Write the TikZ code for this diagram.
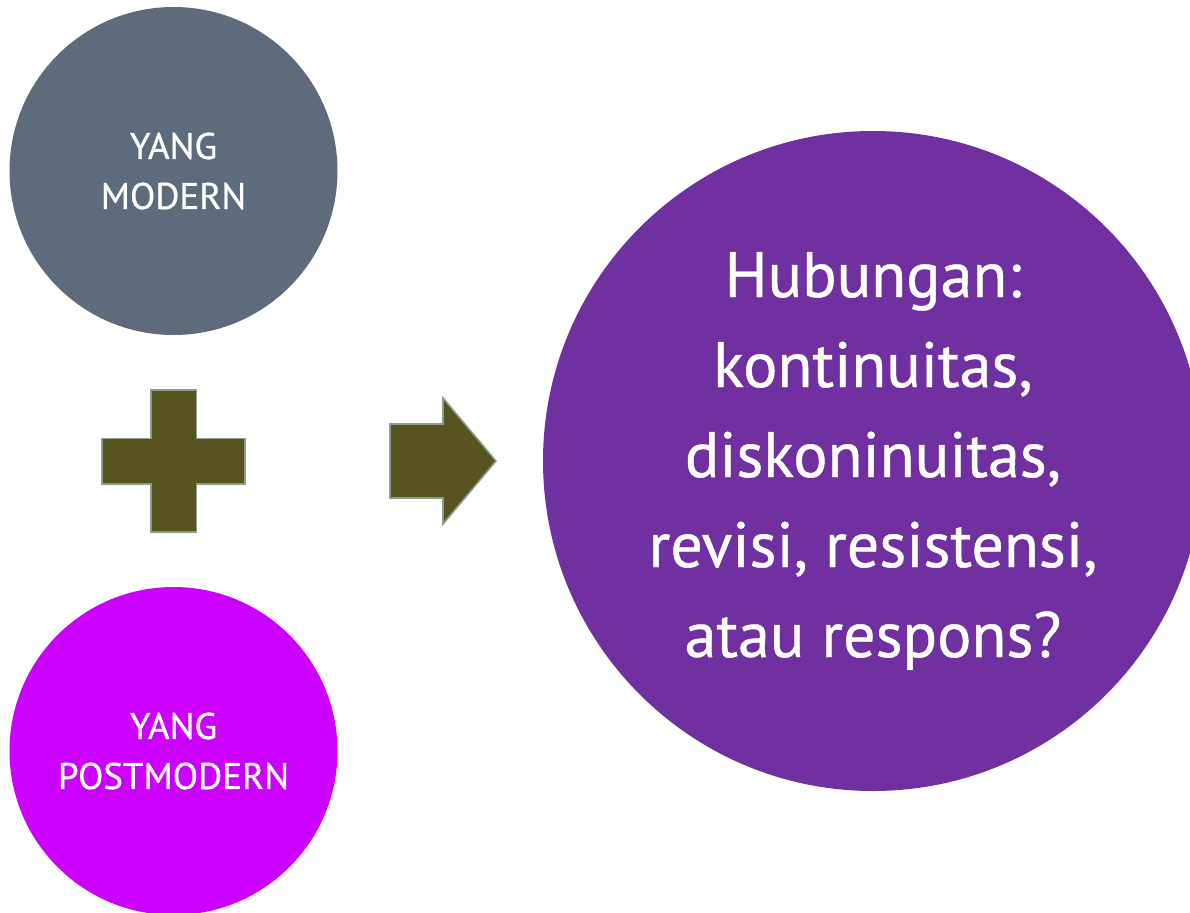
\documentclass[tikz,border=0pt]{standalone}
\usepackage{fontspec}
\setmainfont{PT Sans}[FakeBold=0.7]
\definecolor{slate}{HTML}{5E6B7D}
\definecolor{magen}{HTML}{CC00FF}
\definecolor{purp}{HTML}{7030A0}
\definecolor{olive}{HTML}{57541F}
\definecolor{olivel}{HTML}{8E9C8C}
\begin{document}
\begin{tikzpicture}[x=1pt,y=-1pt,
  ball/.style={circle,inner sep=0pt,text=white,align=center},
  sym/.style={fill=olive,draw=olivel,line width=1.6pt,line join=miter}]
\useasboundingbox (0,0) rectangle (1190,912);
\clip (0,0) rectangle (1190,912);
\node[ball,fill=slate,minimum size=328pt,font=\fontsize{37}{50}\selectfont] (modern) at (173.5,171) {YANG\\MODERN};
\node[ball,fill=magen,minimum size=328pt,font=\fontsize{37}{50}\selectfont] (post) at (173.5,751) {YANG\\POSTMODERN};
\node[ball,fill=purp,minimum size=660pt,font=\fontsize{64}{90}\selectfont] (rel) at (873,461) {Hubungan:\\kontinuitas,\\diskoninuitas,\\revisi, resistensi,\\atau respons?};
\draw[sym] (151,390) -- (196.5,390) -- (196.5,438.5) -- (245,438.5) -- (245,484) -- (196.5,484) -- (196.5,532) -- (151,532) -- (151,484) -- (102,484) -- (102,438.5) -- (151,438.5) -- cycle;
\draw[sym] (390,424) -- (443,424) -- (443,398) -- (496,461) -- (443,524) -- (443,498) -- (390,498) -- cycle;
\end{tikzpicture}
\end{document}
